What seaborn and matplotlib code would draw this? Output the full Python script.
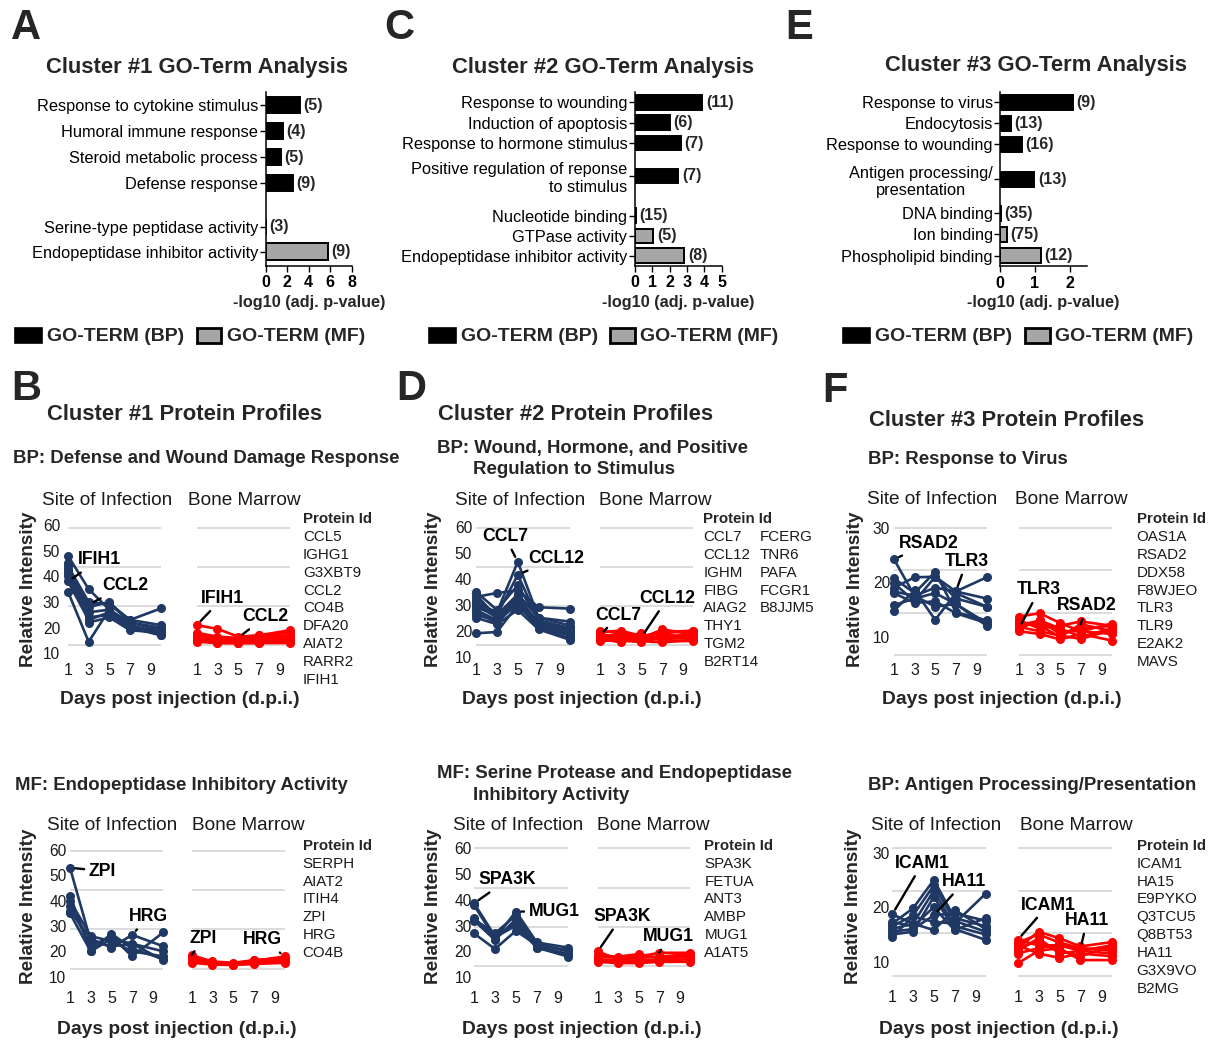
import matplotlib
matplotlib.use("Agg")
import matplotlib.pyplot as plt
from matplotlib.patches import Rectangle
import pandas as pd
import seaborn as sns

W, H = 1214, 1043
NAVY = "#1f3864"
RED = "#ff0000"
GREY = "#a6a6a6"
GRID = "#d9d9d9"
INK = "#1a1a1a"

DAYS = [1, 3, 5, 7, 10]
DAY_TICKS = [1, 3, 5, 7, 9]

# ---- GO-term enrichment ----
GO1_TERMS = ["Response to cytokine stimulus", "Humoral immune response",
             "Steroid metabolic process", "Defense response",
             "Serine-type peptidase activity", "Endopeptidase inhibitor activity"]
GO1_LOGP = [3.2, 1.6, 1.4, 2.5, 0.05, 5.8]
GO1_COUNTS = [5, 4, 5, 9, 3, 9]
GO1_KIND = ["BP", "BP", "BP", "BP", "MF", "MF"]

GO2_TERMS = ["Response to wounding", "Induction of apoptosis",
             "Response to hormone stimulus",
             "Positive regulation of reponse\nto stimulus",
             "Nucleotide binding", "GTPase activity",
             "Endopeptidase inhibitor activity"]
GO2_LOGP = [3.88, 2.02, 2.64, 2.5, 0.03, 1.06, 2.85]
GO2_COUNTS = [11, 6, 7, 7, 15, 5, 8]
GO2_KIND = ["BP", "BP", "BP", "BP", "MF", "MF", "MF"]

GO3_TERMS = ["Response to virus", "Endocytosis", "Response to wounding",
             "Antigen processing/\npresentation", "DNA binding", "Ion binding",
             "Phospholipid binding"]
GO3_LOGP = [2.1, 0.31, 0.63, 0.98, 0.02, 0.2, 1.17]
GO3_COUNTS = [9, 13, 16, 13, 35, 75, 12]
GO3_KIND = ["BP", "BP", "BP", "BP", "MF", "MF", "MF"]

# ---- protein profiles (values at DAYS) ----
C1_BP_PROTEINS = ["CCL5", "IGHG1", "G3XBT9", "CCL2", "CO4B", "DFA20", "AIAT2", "RARR2", "IFIH1"]
C1_BP_SITE = [[48, 35, 27, 22, 20], [44, 30, 29, 23, 21], [43, 28, 30, 22, 19],
              [42, 26, 27, 21, 18], [40, 24, 25, 20, 17], [34, 14.5, 27, 21, 17],
              [41, 29, 29.5, 23, 27.5], [38, 23, 26, 20, 19], [45, 22, 24, 19, 18]]
C1_BP_MARROW = [[21, 19.5, 16.5, 17, 19], [18, 16.5, 16, 17, 18], [17.5, 16, 15.5, 16.5, 17],
                [17, 15.5, 15, 16, 16.5], [16.5, 15, 15, 15.5, 16], [16, 14.5, 14.5, 15, 15.5],
                [15.5, 14.5, 14, 14.5, 15], [15, 14, 14, 14, 14.5], [14.5, 14, 14, 14, 14]]

C2_BP_PROTEINS = ["CCL7", "CCL12", "IGHM", "FIBG", "AIAG2", "THY1", "TGM2", "B2RT14",
                  "FCERG", "TNR6", "PAFA", "FCGR1", "B8JJM5"]
C2_BP_SITE = [[31, 27, 46.5, 25, 22], [29, 26, 41.5, 24, 21], [35, 28, 37.5, 24, 20],
              [33, 34.5, 35.5, 29, 28.5], [19, 19.5, 30, 22, 19], [30, 25, 33, 23, 20],
              [28, 24, 32, 22, 18], [27, 23, 31, 21, 17], [26, 24, 30, 21, 18.5],
              [32, 26, 34, 25, 23.5], [25, 22.5, 28, 20.5, 16.5], [30, 27, 29, 23, 21],
              [34, 25, 31, 22, 19.5]]
C2_BP_MARROW = [[18, 17, 17.5, 20, 19.5], [19.5, 20, 18, 19, 20], [17, 19, 16.5, 18, 18],
                [18.5, 16, 16, 17, 17], [16.5, 17.5, 19, 16, 16], [17.5, 18, 17, 20.5, 18.5],
                [19, 16.5, 15.5, 18.5, 17.5], [16, 16.5, 17, 17, 19], [18, 18.5, 16, 15.5, 16.5],
                [17, 15.5, 18.5, 16.5, 18], [20, 19, 17.5, 19.5, 20], [16.5, 17, 16, 18, 17],
                [18, 17.5, 18, 17.5, 18.5]]

C3_BP_PROTEINS = ["OAS1A", "RSAD2", "DDX58", "F8WJEO", "TLR3", "TLR9", "E2AK2", "MAVS"]
C3_BP_SITE = [[24.2, 17.5, 15.5, 16, 12.5], [20.7, 18, 21.9, 14.5, 13], [19.8, 16.5, 21, 18.3, 17],
              [19, 20.9, 21, 17, 15.5], [18.3, 17.5, 19, 18.3, 20.9], [15.8, 17, 18, 16, 12],
              [14.8, 18.5, 13.1, 18, 15.5], [18, 16.2, 16.5, 14.3, 12.5]]
C3_BP_MARROW = [[11.5, 13, 10.5, 11.5, 12], [12.5, 12, 10, 12.3, 11], [13.7, 14.3, 12.5, 11, 12.4],
                [12, 13, 11.5, 10, 11.5], [13, 11.5, 12, 12.8, 12], [11, 10.5, 9.5, 10.5, 9.3],
                [12.5, 12.5, 11, 11, 10.5], [11.8, 11, 10.2, 9.6, 11.2]]

C1_MF_PROTEINS = ["SERPH", "AIAT2", "ITIH4", "ZPI", "HRG", "CO4B"]
C1_MF_SITE = [[53, 24, 22, 23, 20], [42, 20, 27, 21, 17], [40, 26, 24, 20, 18],
              [38, 22, 26, 18, 27.5], [36, 25, 21.5, 26.5, 22], [35, 20, 25, 23, 16.5]]
C1_MF_MARROW = [[18.5, 16, 15.5, 16.5, 17], [17, 15.5, 15, 16.5, 17.5], [16.5, 15, 14.8, 16, 16.5],
                [16, 15, 15, 15.5, 16], [17.5, 15.5, 15.2, 16.2, 18], [15.5, 14.8, 14.6, 15, 15.5]]

C2_MF_PROTEINS = ["SPA3K", "FETUA", "ANT3", "AMBP", "MUG1", "A1AT5"]
C2_MF_SITE = [[38.7, 26, 31, 23, 20], [38, 25, 35.5, 23.5, 21.5], [32.5, 27, 34, 22, 19],
              [32, 24.5, 32.5, 21.5, 18.5], [27, 21, 28, 22.5, 20.5], [33, 25.5, 30, 21.5, 18]]
C2_MF_MARROW = [[20, 17, 17.5, 18, 19], [18, 17.5, 18, 19.5, 19.5], [17, 16.5, 16.5, 17, 18],
                [16.5, 16, 16, 16.5, 17], [18.5, 18, 19, 17.5, 18.5], [16, 15.5, 15.5, 16, 16]]

C3_AP_PROTEINS = ["ICAM1", "HA15", "E9PYKO", "Q3TCU5", "Q8BT53", "HA11", "G3X9VO", "B2MG"]
C3_AP_SITE = [[18.7, 17, 15.8, 19.5, 16], [17, 19.8, 25, 18, 16.5], [16.5, 18.5, 24, 17.5, 15.5],
              [16, 17, 23, 16.5, 15], [15.5, 16, 18.5, 18.9, 17.5], [15, 15.5, 21.9, 16, 14],
              [14.6, 18.3, 17.3, 17, 22.5], [17.3, 16.5, 20, 15.8, 18]]
C3_AP_MARROW = [[14, 13, 13, 12, 13], [12.5, 15.5, 14.3, 12.8, 13.6], [13.5, 15, 13.5, 12.5, 12],
                [12, 14.3, 11.5, 12, 11.5], [11.5, 12.5, 13, 12.3, 12.5], [9.7, 12, 12.5, 10.3, 10.3],
                [13, 11.5, 10.7, 11.5, 11], [12.5, 13.8, 12, 11, 12.8]]

# ---- layout (figure pixels) ----
GO_LAYOUT = [
    dict(letter="A", letter_xy=(26, 28), title="Cluster #1 GO-Term Analysis", title_xy=(197.5, 67),
         box=(265.7, 92, 351.7, 265.7), slots=[0, 1, 2, 3, 4.69, 5.65], ylim=(6.18, -0.5),
         bar_h=0.65, xlim=(0, 8), xticks=[0, 2, 4, 6, 8], legend=(15, 196.7)),
    dict(letter="C", letter_xy=(399, 28), title="Cluster #2 GO-Term Analysis", title_xy=(603.3, 67),
         box=(635, 92, 721.7, 265.7), slots=[0, 1.02, 2, 3.61, 5.56, 6.54, 7.51], ylim=(7.99, -0.49),
         bar_h=0.73, xlim=(0, 5), xticks=[0, 1, 2, 3, 4, 5], legend=(429.3, 610)),
    dict(letter="E", letter_xy=(799.5, 28), title="Cluster #3 GO-Term Analysis", title_xy=(1035.8, 65),
         box=(1000.3, 92, 1087, 266), slots=[0, 1, 2, 3.67, 5.29, 6.29, 7.33], ylim=(7.81, -0.48),
         bar_h=0.71, xlim=(0, 2.5), xticks=[0, 1, 2], legend=(843.3, 1025), center_multi=True),
]

PROFILE_LAYOUT = {
    "B1": dict(site=(68, 161), bm=(196.7, 290), ylab=((60, 525), (10, 653.3)), yticks=[10, 20, 30, 40, 50, 60],
               grid=[527.7, 566.7, 606, 645], xtick_y=671.7, title_y=500.7, titles_x=(107, 244),
               ylabel=(28.3, 589.5), xlabel=(180, 700), prot_x=[303], prot_y=519, per_col=20, ypad=8),
    "D1": dict(site=(476, 570), bm=(600, 693.3), ylab=((60, 526.7), (10, 656.7)), yticks=[10, 20, 30, 40, 50, 60],
               grid=[527.7, 566.7, 606, 645], xtick_y=671.7, title_y=500.7, titles_x=(520, 655.8),
               ylabel=(434, 589.5), xlabel=(582, 700), prot_x=[703.3, 760], prot_y=519, per_col=8, ypad=4),
    "F1": dict(site=(894, 986.7), bm=(1019, 1111.7), ylab=((30, 527.7), (10, 636.7)), yticks=[10, 20, 30],
               grid=[527.7, 570, 612.7, 655], xtick_y=671.7, title_y=500, titles_x=(932.5, 1071.5),
               ylabel=(855, 589.5), xlabel=(1002, 700), prot_x=[1136.7], prot_y=519, per_col=20, ypad=4),
    "B2": dict(site=(70, 163.3), bm=(191.7, 285), ylab=((60, 850), (10, 976.7)), yticks=[10, 20, 30, 40, 50, 60],
               grid=[851, 890, 929.3, 969], xtick_y=999.3, title_y=825, titles_x=(111.7, 248.3),
               ylabel=(28.3, 906.7), xlabel=(177, 1030), prot_x=[302.7], prot_y=845.7, per_col=20, ypad=3.5),
    "D2": dict(site=(474, 568.3), bm=(597.7, 690), ylab=((60, 848.3), (10, 977.3)), yticks=[10, 20, 30, 40, 50, 60],
               grid=[848.3, 887.7, 927.3, 966], xtick_y=999.3, title_y=825, titles_x=(518, 653.3),
               ylabel=(433.3, 906.7), xlabel=(582, 1030), prot_x=[704.3], prot_y=845.7, per_col=20, ypad=2.5),
    "F2": dict(site=(892.3, 985.7), bm=(1017.7, 1111.7), ylab=((30, 852.7), (10, 961.7)), yticks=[10, 20, 30],
               grid=[848.3, 890.7, 933.3, 976], xtick_y=999, title_y=825, titles_x=(936.2, 1076.2),
               ylabel=(853.3, 906.7), xlabel=(999, 1030), prot_x=[1136.7], prot_y=845.7, per_col=20, ypad=2.5),
}

# label, panel side, line index, day index, text centre (px)
NOTES = {
    "B1": [("IFIH1", "site", 7, 0, (99, 560)), ("CCL2", "site", 6, 1, (125, 586)),
           ("IFIH1", "bm", 0, 0, (222.5, 598.3)), ("CCL2", "bm", 1, 2, (265, 616.7))],
    "D1": [("CCL7", "site", 0, 2, (505, 536.7)), ("CCL12", "site", 1, 2, (556.2, 558.3)),
           ("CCL7", "bm", 0, 0, (618.3, 615)), ("CCL12", "bm", 0, 2, (667.5, 598.3))],
    "F1": [("RSAD2", "site", 0, 0, (929, 543.3)), ("TLR3", "site", 4, 3, (966.7, 561.7)),
           ("TLR3", "bm", 0, 0, (1039.2, 590)), ("RSAD2", "bm", 1, 3, (1086.7, 606))],
    "B2": [("ZPI", "site", 0, 0, (102.5, 871)), ("HRG", "site", 4, 3, (148.3, 916.7)),
           ("ZPI", "bm", 0, 0, (203.3, 938.3)), ("HRG", "bm", 4, 4, (262.8, 940))],
    "D2": [("SPA3K", "site", 0, 0, (507.5, 880)), ("MUG1", "site", 1, 2, (554.2, 911.7)),
           ("SPA3K", "bm", 0, 0, (621.7, 916.7)), ("MUG1", "bm", 1, 3, (668.2, 936.7))],
    "F2": [("ICAM1", "site", 0, 0, (922.5, 863.3)), ("HA11", "site", 4, 2, (964.2, 881.7)),
           ("ICAM1", "bm", 0, 0, (1048.3, 905)), ("HA11", "bm", 4, 3, (1087, 920.7))],
}

HEADERS = [
    ("B", 26, 389, 30, "center"), ("D", 411, 389, 30, "center"), ("F", 835, 391, 30, "center"),
    ("Cluster #1 Protein Profiles", 184.7, 415, 15.8, "center"),
    ("Cluster #2 Protein Profiles", 576, 415, 15.8, "center"),
    ("Cluster #3 Protein Profiles", 1007, 420, 15.8, "center"),
    ("BP: Defense and Wound Damage Response", 13, 458.3, 13.4, "left"),
    ("BP: Wound, Hormone, and Positive", 436.7, 448.3, 13.4, "left"),
    ("Regulation to Stimulus", 472.7, 470, 13.4, "left"),
    ("BP: Response to Virus", 868, 459, 13.4, "left"),
    ("MF: Endopeptidase Inhibitory Activity", 15, 785, 13.4, "left"),
    ("MF: Serine Protease and Endopeptidase", 437, 773, 13.4, "left"),
    ("Inhibitory Activity", 473, 795, 13.4, "left"),
    ("BP: Antigen Processing/Presentation", 868, 785, 13.4, "left"),
]

sns.set_theme(style="white")
plt.rcParams["font.family"] = ["Liberation Sans", "DejaVu Sans"]

fig = plt.figure(figsize=(W / 100, H / 100), dpi=100)
fig.patch.set_facecolor("white")
ov = fig.add_axes([0, 0, 1, 1])
ov.set_xlim(0, W)
ov.set_ylim(H, 0)
ov.axis("off")


def px_axes(x0, y0, x1, y1):
    return fig.add_axes([x0 / W, 1 - y1 / H, (x1 - x0) / W, (y1 - y0) / H])


def pt(px):
    return px * 0.72


def go_panel(lay, terms, logp, counts, kinds):
    ax = px_axes(*lay["box"])
    ax.set_facecolor("none")
    colors = ["black" if k == "BP" else GREY for k in kinds]
    ax.barh(lay["slots"], logp, height=lay["bar_h"], color=colors,
            edgecolor="black", linewidth=1.4, zorder=3)
    for s, v, n in zip(lay["slots"], logp, counts):
        ax.annotate(f"({n})", xy=(v, s), xytext=(2.5, 0), textcoords="offset points",
                    va="center", ha="left", fontsize=11.5, fontweight="bold",
                    annotation_clip=False)
    ax.set_xlim(*lay["xlim"])
    ax.set_ylim(*lay["ylim"])
    ax.set_xticks(lay["xticks"])
    ax.set_xticklabels([str(t) for t in lay["xticks"]], fontsize=11.5, fontweight="bold")
    ax.set_yticks(lay["slots"])
    ax.set_yticklabels(terms, fontsize=11.8)
    if lay.get("center_multi"):
        for lab in ax.get_yticklabels():
            if "\n" in lab.get_text():
                lab.set_multialignment("center")
    ax.tick_params(axis="both", bottom=True, left=True, direction="out",
                   length=4, width=1, color="black", labelcolor="black")
    ax.tick_params(axis="y", pad=1.5)
    ax.tick_params(axis="x", pad=3)
    for side in ("top", "right"):
        ax.spines[side].set_visible(False)
    for side in ("left", "bottom"):
        ax.spines[side].set_color("black")
        ax.spines[side].set_linewidth(1.1)
    ax.set_xlabel("-log10 (adj. p-value)", fontsize=11.7, fontweight="bold", labelpad=3)

    ov.text(*lay["letter_xy"], lay["letter"], fontsize=30, fontweight="bold", ha="center", va="center")
    ov.text(*lay["title_xy"], lay["title"], fontsize=15.8, fontweight="bold", ha="center", va="center")
    bx, gx = lay["legend"]
    ov.add_patch(Rectangle((bx, 328.3), 26.7, 15, facecolor="black", edgecolor="black", lw=1.2))
    ov.text(bx + 31.7, 336.7, "GO-TERM (BP)", fontsize=14, fontweight="bold", ha="left", va="center")
    ov.add_patch(Rectangle((gx, 328.3), 24.5, 15, facecolor=GREY, edgecolor="black", lw=2))
    ov.text(gx + 30, 336.7, "GO-TERM (MF)", fontsize=14, fontweight="bold", ha="left", va="center")


def long_table(rows):
    recs = []
    for i, row in enumerate(rows):
        for d, v in zip(DAYS, row):
            recs.append({"protein": i, "day": d, "value": v})
    return pd.DataFrame(recs)


def profile_panel(key, site, marrow, proteins):
    lay = PROFILE_LAYOUT[key]
    (vt, p_top), (vb, p_bot) = lay["ylab"]
    scale = (vt - vb) / (p_bot - p_top)

    def val(py):
        return vt - (py - p_top) * scale

    top = min(lay["grid"][0], p_top) - 4
    bot = max(lay["grid"][-1], p_bot) + 4
    axes = {}
    for side, rows, color in (("site", site, NAVY), ("bm", marrow, RED)):
        x0, x1 = lay[side]
        ax = px_axes(x0, top, x1, bot)
        ax.set_facecolor("none")
        sns.lineplot(data=long_table(rows), x="day", y="value", units="protein",
                     estimator=None, color=color, linewidth=1.9, marker="o",
                     markersize=6.5, markeredgewidth=0, clip_on=False,
                     legend=False, ax=ax, zorder=3)
        ax.set_xlim(1, 10)
        ax.set_ylim(val(bot), val(top))
        for g in lay["grid"]:
            ax.axhline(val(g), color=GRID, lw=1.3, zorder=1)
        ax.set_xticks(DAY_TICKS)
        ax.set_xticklabels([str(d) for d in DAY_TICKS], fontsize=11.5, color=INK)
        ax.set_yticks(lay["yticks"])
        if side == "site":
            ax.set_yticklabels([str(t) for t in lay["yticks"]], fontsize=11.2, color=INK)
        else:
            ax.set_yticklabels([])
        ax.tick_params(axis="x", length=0, pad=pt(lay["xtick_y"] - 8.6 - bot))
        ax.tick_params(axis="y", length=0, pad=pt(lay["ypad"]))
        ax.set_xlabel("")
        ax.set_ylabel("")
        ax.grid(False)
        for s in ax.spines.values():
            s.set_visible(False)
        axes[side] = ax

    for label, side, line, di, (tx, ty) in NOTES[key]:
        rows = site if side == "site" else marrow
        axes[side].annotate(label, xy=(DAYS[di], rows[line][di]), xytext=(tx, H - ty),
                            textcoords="figure pixels", ha="center", va="center",
                            fontsize=12.7, fontweight="bold", color="black",
                            arrowprops=dict(arrowstyle="-", color="black", lw=1.7,
                                            shrinkA=1, shrinkB=4),
                            annotation_clip=False, zorder=5)

    ov.text(lay["titles_x"][0], lay["title_y"], "Site of Infection", fontsize=13.7,
            color=INK, ha="center", va="center")
    ov.text(lay["titles_x"][1], lay["title_y"], "Bone Marrow", fontsize=13.7,
            color=INK, ha="center", va="center")
    ov.text(*lay["ylabel"], "Relative Intensity", rotation=90, fontsize=13.6,
            fontweight="bold", ha="center", va="center")
    ov.text(*lay["xlabel"], "Days post injection (d.p.i.)", fontsize=13.9,
            fontweight="bold", ha="center", va="center")

    px = lay["prot_x"]
    y0 = lay["prot_y"]
    ov.text(px[0], y0, "Protein Id", fontsize=10.8, fontweight="bold", ha="left", va="center")
    for i, name in enumerate(proteins):
        col, r = divmod(i, lay["per_col"])
        ov.text(px[col], y0 + 17.9 * (r + 1), name, fontsize=10.9, color=INK,
                ha="left", va="center")


go_panel(GO_LAYOUT[0], GO1_TERMS, GO1_LOGP, GO1_COUNTS, GO1_KIND)
go_panel(GO_LAYOUT[1], GO2_TERMS, GO2_LOGP, GO2_COUNTS, GO2_KIND)
go_panel(GO_LAYOUT[2], GO3_TERMS, GO3_LOGP, GO3_COUNTS, GO3_KIND)

profile_panel("B1", C1_BP_SITE, C1_BP_MARROW, C1_BP_PROTEINS)
profile_panel("D1", C2_BP_SITE, C2_BP_MARROW, C2_BP_PROTEINS)
profile_panel("F1", C3_BP_SITE, C3_BP_MARROW, C3_BP_PROTEINS)
profile_panel("B2", C1_MF_SITE, C1_MF_MARROW, C1_MF_PROTEINS)
profile_panel("D2", C2_MF_SITE, C2_MF_MARROW, C2_MF_PROTEINS)
profile_panel("F2", C3_AP_SITE, C3_AP_MARROW, C3_AP_PROTEINS)

for text, x, y, size, ha in HEADERS:
    ov.text(x, y, text, fontsize=size, fontweight="bold", ha=ha, va="center")

fig.savefig("out.png", dpi=100)
